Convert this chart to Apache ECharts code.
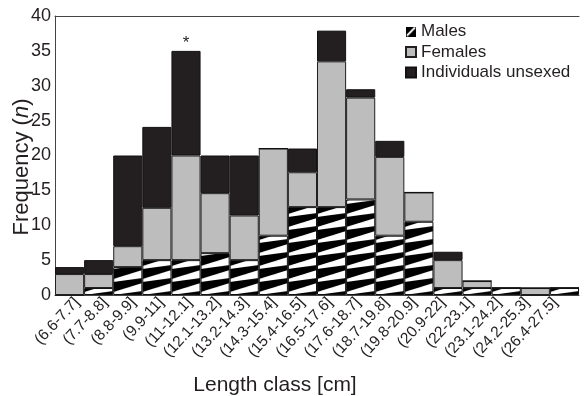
<!DOCTYPE html>
<html>
<head>
<meta charset="utf-8">
<script src="https://cdn.jsdelivr.net/npm/echarts@6/dist/echarts.min.js"></script>
<style>
  html, body { margin: 0; padding: 0; background: #fff; }
  #main { width: 584px; height: 396px; }
</style>
</head>
<body>
<div id="main"></div>
<script>
// length classes (x axis)
var lengthClasses = ['(6.6-7.7]', '(7.7-8.8]', '(8.8-9.9]', '(9.9-11]', '(11-12.1]', '(12.1-13.2]',
    '(13.2-14.3]', '(14.3-15.4]', '(15.4-16.5]', '(16.5-17.6]', '(17.6-18.7]', '(18.7-19.8]',
    '(19.8-20.9]', '(20.9-22]', '(22-23.1]', '(23.1-24.2]', '(24.2-25.3]', '(26.4-27.5]'];
var males   = [0, 1, 4, 5, 5, 6, 5, 8.5, 12.6, 12.6, 13.7, 8.5, 10.5, 1, 1, 1, 0, 1];
var females = [3, 2, 3, 7.5, 15, 8.6, 6.4, 12.5, 5, 20.9, 14.6, 11.3, 4.2, 4, 1, 0, 1, 0];
var unsexed = [1, 2, 13, 11.6, 15, 5.4, 8.6, 0, 3.4, 4.4, 1.2, 2.3, 0, 1.2, 0, 0, 0, 0];
var marks   = ['', '', '', '', '*', '', '', '', '', '', '', '', '', '', '', '', '', ''];
var yTicks  = [0, 40, 5];

var gridLeft = 55, gridWidth = 524, gridTop = 16, gridBottom = 101;
var band = gridWidth / lengthClasses.length;
var textColor = '#231f20';
var font = '"Liberation Sans", Arial, sans-serif';

// hatch used for males: black with white wedges rising to the right
function hatchTile() {
    var c = document.createElement('canvas');
    c.width = 29; c.height = 13;
    var g = c.getContext('2d');
    g.fillStyle = '#000';
    g.fillRect(0, 0, 29, 13);
    g.fillStyle = '#fff';
    g.beginPath();
    g.moveTo(0, 10); g.lineTo(29, 1); g.lineTo(29, 9); g.lineTo(0, 13);
    g.closePath();
    g.fill();
    return c;
}
function legendHatch() {
    var c = document.createElement('canvas');
    c.width = 11; c.height = 11;
    var g = c.getContext('2d');
    g.fillStyle = '#000';
    g.fillRect(0, 0, 11, 11);
    g.strokeStyle = '#fff';
    g.lineWidth = 2.2;
    g.beginPath(); g.moveTo(1, 10); g.lineTo(10, 1); g.stroke();
    return c.toDataURL();
}

var hatch = {
    image: hatchTile(),
    repeat: 'repeat',
    x: gridLeft,
    y: 396 - gridBottom,
    scaleX: band / 29
};

var myChart = echarts.init(document.getElementById('main'));

var unsexedData = unsexed.map(function (v, i) {
    if (marks[i]) {
        return { value: v, label: { show: true, position: 'top', distance: -1, formatter: marks[i],
            fontSize: 17, color: textColor, fontFamily: font } };
    }
    return v;
});

var option = {
    animation: false,
    grid: [
        { left: gridLeft, top: gridTop, width: gridWidth, bottom: gridBottom, outerBoundsMode: 'none' },
        { left: 63, top: gridTop, width: 506, bottom: gridBottom, outerBoundsMode: 'none' }
    ],
    legend: {
        orient: 'vertical',
        left: 400,
        top: 18,
        itemWidth: 10,
        itemHeight: 10,
        itemGap: 3.5,
        textStyle: { fontSize: 17, color: textColor, fontFamily: font, lineHeight: 17 },
        data: [
            { name: 'Males', icon: 'image://' + legendHatch() },
            { name: 'Females', icon: 'rect' },
            { name: 'Individuals unsexed', icon: 'rect' }
        ]
    },
    xAxis: [
        {
            type: 'category',
            gridIndex: 0,
            data: lengthClasses,
            axisLine: { lineStyle: { color: '#444', width: 1 } },
            axisTick: { show: false },
            axisLabel: { show: false },
            name: 'Length class [cm]',
            nameLocation: 'middle',
            nameGap: 80,
            nameMoveOverlap: false,
            nameTextStyle: { fontSize: 21, color: textColor, fontFamily: font, padding: [0, 84, 0, 0] }
        },
        {
            type: 'category',
            gridIndex: 1,
            data: lengthClasses,
            axisLine: { show: false },
            axisTick: { show: false },
            axisLabel: { rotate: 47, margin: 5, fontSize: 15.5, color: textColor, fontFamily: font, interval: 0 }
        },
        {
            type: 'category',
            gridIndex: 0,
            position: 'top',
            data: lengthClasses,
            axisLine: { lineStyle: { color: '#444', width: 1 } },
            axisTick: { show: false },
            axisLabel: { show: false }
        }
    ],
    yAxis: [
        {
            type: 'value',
            gridIndex: 0,
            min: yTicks[0],
            max: yTicks[1],
            interval: yTicks[2],
            splitLine: { show: false },
            axisTick: { show: false },
            axisLine: { show: true, lineStyle: { color: '#444', width: 1 } },
            axisLabel: { fontSize: 18, color: textColor, fontFamily: font, margin: 4 },
            name: '{t|Frequency (}{i|n}{t|)}',
            nameLocation: 'middle',
            nameGap: 22,
            nameMoveOverlap: false,
            nameTextStyle: {
                padding: [0, 23, 0, 0],
                rich: {
                    t: { fontSize: 22, color: textColor, fontFamily: font },
                    i: { fontSize: 22, color: textColor, fontFamily: font, fontStyle: 'italic' }
                }
            }
        },
        { type: 'value', gridIndex: 1, show: false, min: 0, max: 40 }
    ],
    series: [
        {
            name: 'Males',
            type: 'bar',
            stack: 'n',
            xAxisIndex: 0,
            yAxisIndex: 0,
            barCategoryGap: 0,
            itemStyle: { color: hatch, borderColor: '#111', borderWidth: 1 },
            data: males
        },
        {
            name: 'Females',
            type: 'bar',
            stack: 'n',
            xAxisIndex: 0,
            yAxisIndex: 0,
            barCategoryGap: 0,
            itemStyle: { color: '#bdbdbd', borderColor: '#231f20', borderWidth: 1 },
            data: females
        },
        {
            name: 'Individuals unsexed',
            type: 'bar',
            stack: 'n',
            xAxisIndex: 0,
            yAxisIndex: 0,
            barCategoryGap: 0,
            itemStyle: { color: '#231f20', borderColor: '#111', borderWidth: 1 },
            data: unsexedData
        }
    ]
};

myChart.setOption(option);

window.onresize = function () {
    myChart.resize();
};
</script>
</body>
</html>
